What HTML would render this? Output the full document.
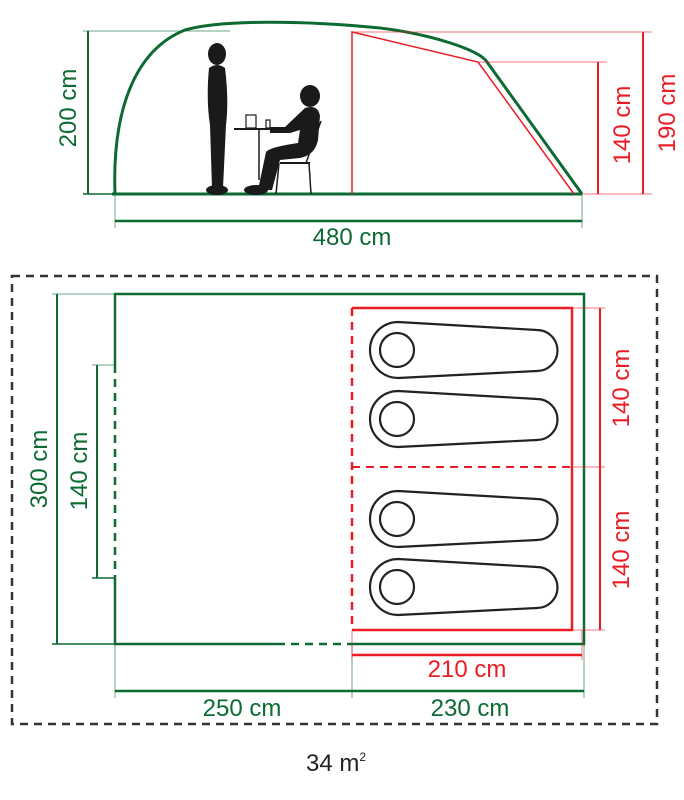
<!DOCTYPE html>
<html><head><meta charset="utf-8"><style>
html,body{margin:0;padding:0;background:#fff;}
svg{display:block;}
text{font-family:"Liberation Sans",sans-serif;font-size:24px;}
.g{fill:#0d6a33}.r{fill:#ec1c24}
</style></head><body>
<svg width="684" height="800" viewBox="0 0 684 800" xmlns="http://www.w3.org/2000/svg">
<g fill="none">
<path d="M115,194 C112,110 135,50 185,30 C220,20 300,20 380,28 C430,34 480,50 487,62 L582,194" stroke="#0d6a33" stroke-width="3"/>
<line x1="112" y1="194" x2="582" y2="194" stroke="#0d6a33" stroke-width="3"/>
<line x1="88" y1="31" x2="88" y2="194" stroke="#0d6a33" stroke-width="2"/>
<line x1="83" y1="31" x2="230" y2="31" stroke="#0d6a33" stroke-width="1" opacity="0.6"/>
<line x1="83" y1="194" x2="115" y2="194" stroke="#0d6a33" stroke-width="1.5"/>
<line x1="115" y1="194" x2="115" y2="228" stroke="#0d6a33" stroke-width="1" opacity="0.6"/>
<line x1="582" y1="194" x2="582" y2="228" stroke="#0d6a33" stroke-width="1" opacity="0.6"/>
<line x1="115" y1="221" x2="582" y2="221" stroke="#0d6a33" stroke-width="2.5"/>
<path d="M352,194 L352,32 L478,62 L574,194" stroke="#ec1c24" stroke-width="1.5"/>
<line x1="352" y1="32" x2="652" y2="32" stroke="#ec1c24" stroke-width="1" opacity="0.6"/>
<line x1="478" y1="62" x2="607" y2="62" stroke="#ec1c24" stroke-width="1" opacity="0.6"/>
<line x1="582" y1="194" x2="652" y2="194" stroke="#ec1c24" stroke-width="1" opacity="0.6"/>
<line x1="598" y1="62" x2="598" y2="194" stroke="#ec1c24" stroke-width="2"/>
<line x1="643" y1="32" x2="643" y2="194" stroke="#ec1c24" stroke-width="2"/>
</g>
<g fill="#1a1a1a">
<ellipse cx="217" cy="54" rx="9" ry="11"/>
<path d="M209,68 Q217,62 225,68 Q229,100 226,125 L223,188 L212,188 L210,125 Q206,100 209,68Z"/>
<ellipse cx="217" cy="190" rx="11" ry="5"/>
<ellipse cx="310" cy="96" rx="10" ry="11"/>
<path d="M305,108 Q318,104 320,116 L318,140 Q315,155 300,158 L280,160 L272,190 L258,190 L266,152 Q270,147 298,143 L300,130 L290,133 L270,133 L270,127 L285,127 Z"/>
<ellipse cx="256" cy="190" rx="12" ry="5"/>
</g>
<g stroke="#1a1a1a" fill="none">
<line x1="234" y1="129" x2="283" y2="129" stroke-width="2"/>
<line x1="259" y1="129" x2="259" y2="180" stroke-width="1.5"/>
<rect x="246" y="115" width="10" height="13" stroke-width="1.2"/>
<rect x="266" y="120" width="4" height="8" stroke-width="1.2"/>
<line x1="321" y1="121" x2="306" y2="163" stroke-width="1.5"/>
<line x1="280" y1="163" x2="310" y2="163" stroke-width="2"/>
<line x1="279" y1="163" x2="276" y2="194" stroke-width="1.5"/>
<line x1="309" y1="163" x2="311" y2="194" stroke-width="1.5"/>
</g>
<text class="g" transform="translate(76,108) rotate(-90)" text-anchor="middle">200 cm</text>
<text class="g" x="352" y="245" text-anchor="middle">480 cm</text>
<text class="r" transform="translate(630,125) rotate(-90)" text-anchor="middle">140 cm</text>
<text class="r" transform="translate(675,113) rotate(-90)" text-anchor="middle">190 cm</text>
<rect x="12" y="276" width="645" height="448" fill="none" stroke="#333" stroke-width="2.5" stroke-dasharray="8,6"/>
<g fill="none" stroke="#0d6a33">
<path d="M115,365 L115,294 L584,294 L584,644 L352,644" stroke-width="2.5"/>
<path d="M115,578 L115,644 L277,644" stroke-width="2.5"/>
<line x1="277" y1="644" x2="352" y2="644" stroke-width="2.5" stroke-dasharray="8,6"/>
<line x1="115" y1="365" x2="115" y2="578" stroke-width="2.5" stroke-dasharray="8,6"/>
<line x1="57" y1="294" x2="57" y2="644" stroke-width="2"/>
<line x1="52" y1="294" x2="115" y2="294" stroke-width="1" opacity="0.6"/>
<line x1="52" y1="644" x2="115" y2="644" stroke-width="1.5"/>
<line x1="97" y1="365" x2="97" y2="578" stroke-width="2"/>
<line x1="92" y1="365" x2="115" y2="365" stroke-width="1" opacity="0.6"/>
<line x1="92" y1="578" x2="115" y2="578" stroke-width="1.5"/>
<line x1="115" y1="644" x2="115" y2="698" stroke-width="1" opacity="0.6"/>
<line x1="352" y1="644" x2="352" y2="698" stroke-width="1" opacity="0.6"/>
<line x1="584" y1="644" x2="584" y2="698" stroke-width="1" opacity="0.6"/>
<line x1="115" y1="691" x2="584" y2="691" stroke-width="2.5"/>
</g>
<g fill="none" stroke="#ec1c24">
<path d="M352,308 L572,308 L572,630 L352,630" stroke-width="2.5"/>
<line x1="352" y1="308" x2="352" y2="630" stroke-width="2.5" stroke-dasharray="8,6"/>
<line x1="352" y1="467" x2="572" y2="467" stroke-width="2" stroke-dasharray="8,6"/>
<line x1="572" y1="308" x2="605" y2="308" stroke-width="1" opacity="0.6"/>
<line x1="572" y1="467" x2="605" y2="467" stroke-width="1" opacity="0.6"/>
<line x1="572" y1="630" x2="605" y2="630" stroke-width="1" opacity="0.6"/>
<line x1="600" y1="308" x2="600" y2="630" stroke-width="2"/>
<line x1="352" y1="630" x2="352" y2="660" stroke-width="1" opacity="0.6"/>
<line x1="582" y1="630" x2="582" y2="660" stroke-width="1" opacity="0.6"/>
<line x1="352" y1="655" x2="582" y2="655" stroke-width="2.5"/>
</g>
<g fill="none" stroke="#222" stroke-width="2.2">
<g id="bag"><path d="M398,322 L537,330 A20,20 0 0 1 537,371 L398,378 A28,28 0 0 1 398,322Z"/><circle cx="397" cy="350" r="17"/></g>
<use href="#bag" y="69"/>
<use href="#bag" y="169"/>
<use href="#bag" y="237"/>
</g>
<text class="g" transform="translate(47,469) rotate(-90)" text-anchor="middle">300 cm</text>
<text class="g" transform="translate(87,471) rotate(-90)" text-anchor="middle">140 cm</text>
<text class="r" transform="translate(629,388) rotate(-90)" text-anchor="middle">140 cm</text>
<text class="r" transform="translate(629,550) rotate(-90)" text-anchor="middle">140 cm</text>
<text class="r" x="467" y="677" text-anchor="middle">210 cm</text>
<text class="g" x="242" y="716" text-anchor="middle">250 cm</text>
<text class="g" x="470" y="716" text-anchor="middle">230 cm</text>
<text x="336" y="771" text-anchor="middle" fill="#222">34 m<tspan font-size="12" dy="-10">2</tspan></text>
</svg>
</body></html>
